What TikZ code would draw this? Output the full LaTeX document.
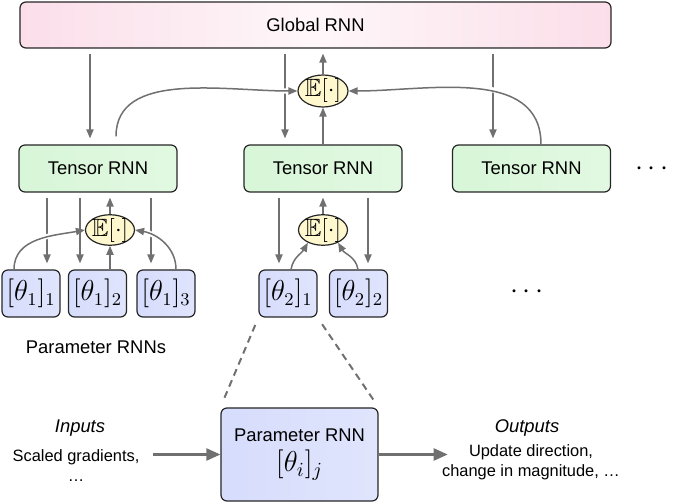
\documentclass[tikz,border=0pt]{standalone}
\usepackage{amssymb}
\usepackage{fontspec}
\setmainfont{Liberation Sans}
\usetikzlibrary{shapes.geometric}
\usetikzlibrary{arrows.meta}
\usetikzlibrary{calc}
\usepackage{xcolor}
\definecolor{globalpink}{RGB}{251,222,233}
\definecolor{tensorgreen}{RGB}{216,246,216}
\definecolor{parblue}{RGB}{214,220,252}
\definecolor{expyellow}{RGB}{255,248,206}
\definecolor{linegray}{RGB}{112,112,112}
\definecolor{boxline}{RGB}{38,38,38}

\begin{document}
\begin{tikzpicture}[x=0.5pt, y=0.5pt,
    box/.style={draw=boxline, line width=0.6pt, rounded corners=3pt, inner sep=0pt,
        font=\fontsize{9.2}{11}\selectfont},
    globalbox/.style={box, left color=globalpink, right color=globalpink,
        middle color=globalpink!25, minimum width=295.5pt, minimum height=23pt},
    tensorbox/.style={box, left color=tensorgreen, right color=tensorgreen!75,
        minimum width=79pt, minimum height=23.5pt},
    parbox/.style={box, left color=parblue, right color=parblue!75,
        minimum width=29pt, minimum height=23.5pt, font=\fontsize{13.5}{13.5}\selectfont},
    expnode/.style={ellipse, draw=boxline, line width=0.6pt, fill=expyellow,
        inner sep=-0.6pt, minimum width=24.5pt, minimum height=15pt,
        font=\fontsize{12.5}{12.5}\selectfont},
    arr/.style={draw=linegray, line width=0.75pt, -{Triangle[length=4.5pt,width=3.6pt]}},
    gap/.style={shorten <=2.5pt, shorten >=3pt},
    halo/.style={preaction={draw=white, line width=2.6pt, -, shorten <=3pt, shorten >=3pt}},
    zoomline/.style={draw=linegray, line width=1pt, dash pattern=on 3.5pt off 2.5pt,
        shorten <=4pt, shorten >=4pt},
    bigarr/.style={draw=linegray, line width=1.2pt, -{Triangle[length=7pt,width=6pt]}},
    caption/.style={inner sep=0pt, font=\fontsize{9.2}{11}\selectfont},
    note/.style={inner sep=0pt, align=center, font=\fontsize{8.2}{10}\selectfont},
    moredots/.style={inner sep=0pt, font=\fontsize{14}{14}\selectfont}
]
    \useasboundingbox (0,0) rectangle (677,-503);
    % global and tensor level
    \node[globalbox] at (315.5, -25) (G) {Global RNN};
    \node[tensorbox] at (98, -168.5) (T1) {Tensor RNN};
    \node[tensorbox] at (323, -168.5) (T2) {Tensor RNN};
    \node[tensorbox] at (531.5, -168.5) (T3) {Tensor RNN};
    \node[moredots] at (652, -169) (D1) {$\cdots$};
    \node[expnode, minimum width=25pt, minimum height=16pt] at (323, -91) (E0) {$\mathbb{E}[\cdot]$};
    % parameter level
    \node[expnode] at (110, -230) (E1) {$\mathbb{E}[\cdot]$};
    \node[expnode] at (323, -230) (E2) {$\mathbb{E}[\cdot]$};
    \node[parbox] at (31, -293.5) (P11) {$[\theta_1]_1$};
    \node[parbox] at (97.5, -293.5) (P12) {$[\theta_1]_2$};
    \node[parbox] at (166, -293.5) (P13) {$[\theta_1]_3$};
    \node[parbox] at (288, -293.5) (P21) {$[\theta_2]_1$};
    \node[parbox] at (358.5, -293.5) (P22) {$[\theta_2]_2$};
    \node[moredots] at (527, -292) (D2) {$\cdots$};
    \node[caption] at (96, -347) (PL) {Parameter RNNs};
    % one parameter RNN
    \node[box, left color=parblue, right color=parblue!75, minimum width=78.5pt,
        minimum height=46.5pt, align=center] at (299.5, -454.5) (P)
        {Parameter RNN\\[4pt]{\fontsize{14}{14}\selectfont$[\theta_i]_j$}};
    \node[caption] at (80, -428) (IL) {\itshape Inputs};
    \node[note] at (76, -466) (I) {Scaled gradients,\\\ldots};
    \node[caption] at (527, -428) (OL) {\itshape Outputs};
    \node[note] at (531, -462.5) (O) {Update direction,\\change in magnitude, \ldots};
    % global <-> tensor
    \draw[arr, gap] ($(G.south -| T1.north)+(-8,0)$) -- ($(T1.north)+(-8,0)$);
    \draw[arr, gap] ($(G.south -| T2.north)+(-38,0)$) -- ($(T2.north)+(-38,0)$);
    \draw[arr, gap] ($(G.south -| T3.north)+(-38.5,0)$) -- ($(T3.north)+(-38.5,0)$);
    \draw[arr, shorten >=2.5pt] (E0.north) -- (E0.north |- G.south);
    \draw[arr] (T2.north) -- (E0.south);
    \draw[arr, halo, shorten <=4pt] ($(T1.north)+(18,0)$) to[out=90, in=180] (E0.west);
    \draw[arr, halo] ($(T3.north)+(9.5,0)$) to[out=90, in=0] (E0.east);
    % tensor 1 <-> parameters
    \draw[arr, gap] ($(T1.south)+(-51,0)$) -- ($(P11.north -| T1.south)+(-51,0)$);
    \draw[arr, gap] ($(T1.south)+(-18,0)$) -- ($(P12.north -| T1.south)+(-18,0)$);
    \draw[arr, gap] ($(T1.south)+(53,0)$) -- ($(P13.north -| T1.south)+(53,0)$);
    \draw[arr, shorten >=2.5pt] (E1.north) -- (E1.north |- T1.south);
    \draw[arr] (P12.north -| E1) -- (E1.south);
    \draw[arr, halo] ($(P11.north)+(-17,0)$) to[out=90, in=190] (E1.west);
    \draw[arr, halo] ($(P13.north)+(10,0)$) to[out=90, in=-10] (E1.east);
    % tensor 2 <-> parameters
    \draw[arr, gap] ($(T2.south)+(-44,0)$) -- ($(P21.north -| T2.south)+(-44,0)$);
    \draw[arr, gap] ($(T2.south)+(45,0)$) -- ($(P22.north -| T2.south)+(45,0)$);
    \draw[arr, shorten >=2.5pt] (E2.north) -- (E2.north |- T2.south);
    \draw[arr] ($(P21.north)+(3,0)$) to[out=80, in=-120] (E2.-140);
    \draw[arr] ($(P22.north)+(-0.5,0)$) to[out=100, in=-60] (E2.-40);
    % zoom into one parameter RNN
    \draw[zoomline] (P21.south west) -- (P.north west);
    \draw[zoomline] (P21.south east) -- (P.north east);
    \draw[bigarr, shorten <=6.5pt] (P.west -| I.east) -- (P.west);
    \draw[bigarr] (P.east) -- ($(P.east -| O.west)+(6,0)$);
\end{tikzpicture}
\end{document}
